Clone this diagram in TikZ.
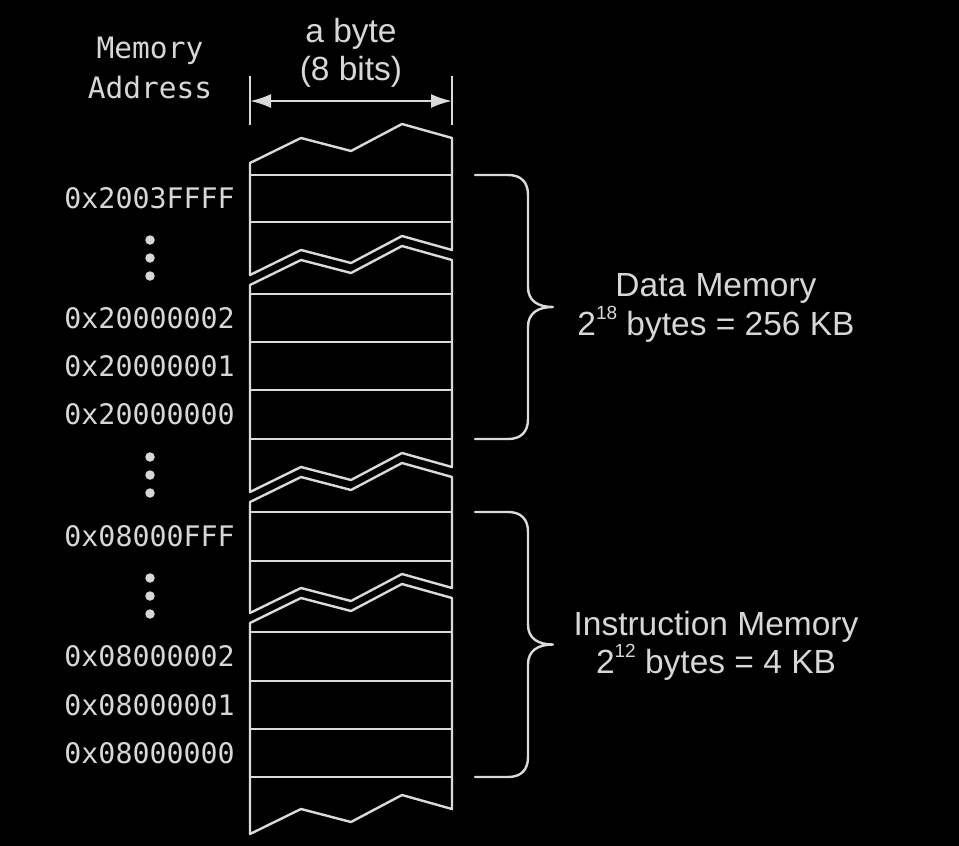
\documentclass[tikz,border=0pt]{standalone}
\usepackage{fontspec}
\setmainfont{Liberation Sans}
\setmonofont{DejaVu Sans Mono}
\usetikzlibrary{arrows.meta}
\definecolor{ln}{RGB}{218,218,218}
\definecolor{tx}{RGB}{215,215,215}
\tikzset{
  line/.style={draw=ln, line width=2.4pt, line join=round},
  addr/.style={text=tx, font=\ttfamily\fontsize{28.3}{30}\selectfont, anchor=east, inner sep=0pt},
  hdr/.style={text=tx, font=\ttfamily\fontsize{29.5}{40}\selectfont, align=center, inner sep=0pt},
  lbl/.style={text=tx, font=\fontsize{33.5}{38.5}\selectfont, align=center, inner sep=0pt},
  vdot/.style={fill=tx, draw=none, circle, minimum size=9.5pt, inner sep=0pt},
}
\newcommand\supnum[1]{\raisebox{0.9ex}{\fontsize{19}{19}\selectfont #1}}
\newcommand\memseg[2]{\draw[line] (250,#1)--(301,#1-25)--(351,#1-12)--(402,#1-39)--(452,#1-25)--(452,#2-25)--(402,#2-39)--(351,#2-12)--(301,#2-25)--(250,#2)--cycle;}
\newcommand\rowline[1]{\draw[line] (250,#1) -- (452,#1);}
\newcommand\membrace[3]{% name, top, bottom
  \pgfmathsetmacro\bmid{(#2+#3)/2}
  \coordinate (#1) at (553,\bmid);
  \draw[line, line cap=round] (475,#2) -- (508,#2) .. controls (521,#2) and (528,#2+7) .. (528,#2+20)
    -- (528,\bmid-20) .. controls (528,\bmid-6) and (538,\bmid) .. (#1)
    .. controls (538,\bmid) and (528,\bmid+6) .. (528,\bmid+20)
    -- (528,#3-20) .. controls (528,#3-7) and (521,#3) .. (508,#3) -- (475,#3);}
\begin{document}
\begin{tikzpicture}[x=1pt,y=-1pt]
\fill[black] (0,0) rectangle (959,846);
\useasboundingbox (0,0) rectangle (959,846);

% header
\node[hdr] (hdr) at (150,68) {Memory\\Address};
\node[lbl] (byte) at (351,53) {a byte\\(8 bits)};

% dimension line
\coordinate (dlt) at (250,76);
\coordinate (dlb) at (250,125);
\coordinate (drt) at (452,76);
\coordinate (drb) at (452,125);
\coordinate (dl) at (250,101);
\coordinate (dr) at (452,101);
\draw[line] (dlt) -- (dlb);
\draw[line] (drt) -- (drb);
\draw[line, {Latex[length=21pt,width=14pt]}-{Latex[length=21pt,width=14pt]}] (dl) -- (dr);

% memory column
\memseg{163}{275}
\memseg{285}{492}
\memseg{502}{613}
\memseg{623}{834}
\foreach \y in {175,222,294,342,390,439,512,561,632,681,729,777} {\rowline{\y}}

% addresses
\node[addr] (a1) at (235,198) {0x2003FFFF};
\node[addr] (a2) at (235,318) {0x20000002};
\node[addr] (a3) at (235,366) {0x20000001};
\node[addr] (a4) at (235,414) {0x20000000};
\node[addr] (a5) at (235,536) {0x08000FFF};
\node[addr] (a6) at (235,656) {0x08000002};
\node[addr] (a7) at (235,705) {0x08000001};
\node[addr] (a8) at (235,753) {0x08000000};

% vertical dots
\foreach \c/\n in {258/d1,475/d2,596/d3} {
  \node[vdot] (\n a) at (150,\c-18) {};
  \node[vdot] (\n b) at (150,\c) {};
  \node[vdot] (\n c) at (150,\c+18) {};
}

% braces
\membrace{bd}{175}{439}
\membrace{bi}{512}{777}
\node[lbl] (dm) at (716,308) {Data Memory\\2\supnum{18} bytes = 256 KB};
\node[lbl] (im) at (716,646) {Instruction Memory\\2\supnum{12} bytes = 4 KB};
\end{tikzpicture}
\end{document}
